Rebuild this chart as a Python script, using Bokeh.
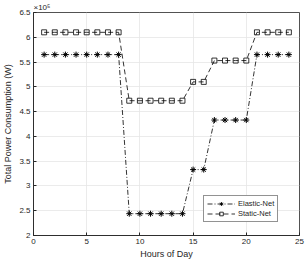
from bokeh.plotting import figure
from bokeh.models import Legend, LegendItem, Title, FixedTicker
from bokeh.embed import file_html
from bokeh.resources import INLINE

hours = list(range(1, 25))
elastic_net = [5.65e5]*8 + [2.44e5]*6 + [3.33e5]*2 + [4.33e5]*4 + [5.65e5]*4
static_net = [6.1e5]*8 + [4.72e5]*6 + [5.1e5]*2 + [5.53e5]*4 + [6.1e5]*4
x_ticks = [0, 5, 10, 15, 20, 25]
y_ticks = [2, 2.5, 3, 3.5, 4, 4.5, 5, 5.5, 6, 6.5]
scale = 1e5

FONT = "Liberation Sans"
AX = "#262626"

p = figure(width=307, height=263, output_backend="svg", toolbar_location=None,
           x_range=(0, 25), y_range=(2, 6.5),
           min_border_left=29, min_border_right=8, min_border_top=0, min_border_bottom=28)
p.outline_line_color = AX
p.outline_line_width = 0.8
p.background_fill_color = "white"

for ax in (p.xaxis[0], p.yaxis[0]):
    ax.major_tick_in = 3
    ax.major_tick_out = 0
    ax.minor_tick_line_color = None
    ax.axis_line_color = AX
    ax.axis_line_width = 0.8
    ax.major_tick_line_color = AX
    ax.major_label_text_font = FONT
    ax.major_label_text_font_size = "8px"
    ax.major_label_text_color = AX
    ax.axis_label_text_font = FONT
    ax.axis_label_text_font_size = "9px"
    ax.axis_label_text_font_style = "normal"
    ax.axis_label_text_color = AX

p.xaxis.ticker = FixedTicker(ticks=x_ticks)
p.yaxis.ticker = FixedTicker(ticks=y_ticks)
p.xaxis.axis_label = "Hours of Day"
p.yaxis.axis_label = "Total Power Consumption (W)"
p.xaxis.major_label_standoff = 3
p.yaxis.major_label_standoff = 3
p.xaxis.axis_label_standoff = 2
p.yaxis.axis_label_standoff = 3

p.xgrid.ticker = FixedTicker(ticks=x_ticks)
p.ygrid.ticker = FixedTicker(ticks=y_ticks)
p.grid.grid_line_color = "#e6e6e6"
p.grid.grid_line_width = 0.8

ey = [v / scale for v in elastic_net]
sy = [v / scale for v in static_net]

l1 = p.line(hours, ey, line_color="black", line_width=0.8, line_dash="5 2 1 2")
m1 = p.scatter(hours, ey, marker="asterisk", size=6, line_color="black", line_width=1)
l2 = p.line(hours, sy, line_color="black", line_width=0.8, line_dash="5 3")
m2 = p.scatter(hours, sy, marker="square", size=5, line_color="black", fill_color=None, line_width=0.8)

legend = Legend(items=[LegendItem(label="Elastic-Net", renderers=[l1, m1]),
                       LegendItem(label="Static-Net", renderers=[l2, m2])],
                location=(170, 13))
legend.label_text_font = FONT
legend.label_text_font_size = "7.5px"
legend.label_text_color = AX
legend.glyph_width = 28
legend.glyph_height = 9
legend.label_height = 9
legend.label_standoff = 3
legend.spacing = 1
legend.padding = 3
legend.margin = 0
legend.border_line_color = AX
legend.border_line_width = 0.8
legend.background_fill_alpha = 1
p.add_layout(legend, "center")

t = Title(text="×10⁵", align="left", text_font=FONT, text_font_size="8px",
          text_font_style="normal", text_color=AX, standoff=1, offset=0)
p.add_layout(t, "above")

open("out.html", "w").write(file_html(p, INLINE))
